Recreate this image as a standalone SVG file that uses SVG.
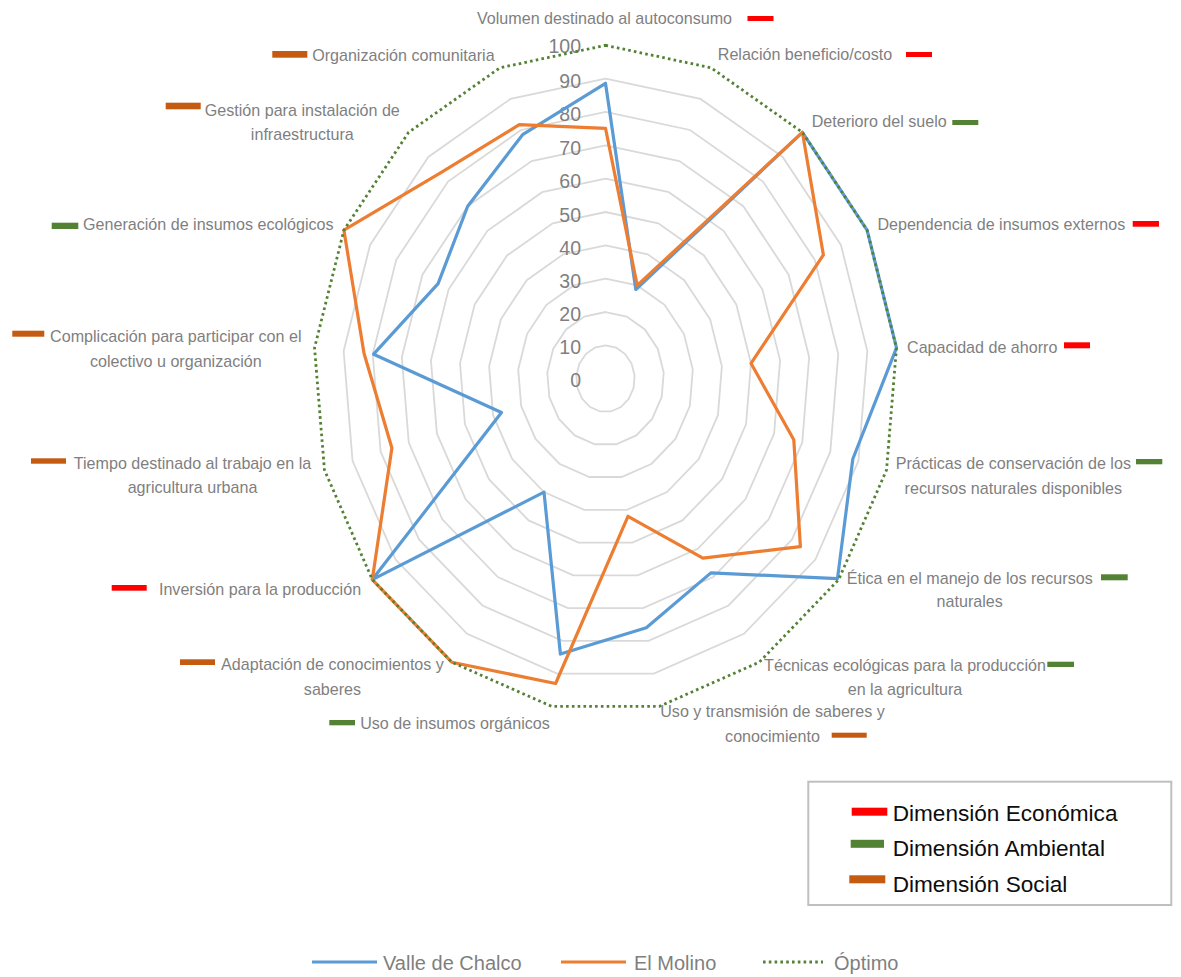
<svg xmlns="http://www.w3.org/2000/svg" xmlns:xlink="http://www.w3.org/1999/xlink" width="1181" height="977" viewBox="0 0 1181 977">
<style>
.lbl{font-family:"Liberation Sans",Arial,sans-serif;font-size:16.1px;fill:#7F7F7F;text-anchor:middle}
.tick{font-family:"Liberation Sans",Arial,sans-serif;font-size:19.5px;fill:#7F7F7F;text-anchor:end}
.leg{font-family:"Liberation Sans",Arial,sans-serif;font-size:22.6px;fill:#0D0D0D}
.leg2{font-family:"Liberation Sans",Arial,sans-serif;font-size:20px;fill:#7F7F7F}
.ring{fill:none;stroke:#D9D9D9}
.eco{fill:#FF0000}
.amb{fill:#548235}
.soc{fill:#C55A11}
.s1{fill:none;stroke:#5B9BD5;stroke-width:3.2;stroke-linejoin:round}
.s2{fill:none;stroke:#ED7D31;stroke-width:3.2;stroke-linejoin:round}
.s3{fill:none;stroke:#548235;stroke-width:2.8;stroke-dasharray:2.6 3.2}
</style>
<defs>
<polygon id="base" points="0,-333.4 105.55,-310.89 196.86,-246.39 261.57,-148.61 290.95,-30.76 281.05,91.24 233.18,200.92 153.83,283.46 53.69,327.72 -53.69,327.72 -153.83,283.46 -233.18,200.92 -281.05,91.24 -290.95,-30.76 -261.57,-148.61 -196.86,-246.39 -105.55,-310.89"/>
</defs>
<rect width="1181" height="977" fill="#FFFFFF"/>
<g id="grid" transform="translate(605.5 378.7)">
<use xlink:href="#base" class="ring" transform="scale(0.1)" stroke-width="18"/>
<use xlink:href="#base" class="ring" transform="scale(0.2)" stroke-width="9"/>
<use xlink:href="#base" class="ring" transform="scale(0.3)" stroke-width="6"/>
<use xlink:href="#base" class="ring" transform="scale(0.4)" stroke-width="4.5"/>
<use xlink:href="#base" class="ring" transform="scale(0.5)" stroke-width="3.6"/>
<use xlink:href="#base" class="ring" transform="scale(0.6)" stroke-width="3"/>
<use xlink:href="#base" class="ring" transform="scale(0.7)" stroke-width="2.571"/>
<use xlink:href="#base" class="ring" transform="scale(0.8)" stroke-width="2.25"/>
<use xlink:href="#base" class="ring" transform="scale(0.9)" stroke-width="2"/>
</g>
<g id="ticks">
<text class="tick" x="581" y="386.7">0</text>
<text class="tick" x="581" y="354">10</text>
<text class="tick" x="581" y="321">20</text>
<text class="tick" x="581" y="288">30</text>
<text class="tick" x="581" y="255">40</text>
<text class="tick" x="581" y="221.5">50</text>
<text class="tick" x="581" y="188">60</text>
<text class="tick" x="581" y="154.5">70</text>
<text class="tick" x="581" y="121">80</text>
<text class="tick" x="581" y="87.5">90</text>
<text class="tick" x="581" y="52.5">100</text>
</g>
<g id="series">
<polygon id="valle" class="s1" points="605.5,83.3 635.8,289.5 802.4,132.3 867.1,230.1 896.5,347.9 852.8,459.0 837.5,578.6 710.9,572.9 646.3,627.8 560.4,654.0 544.0,492.1 372.3,579.6 501.5,412.5 373.6,354.2 438.1,283.6 467.7,206.2 522.6,134.7"/>
<polygon id="molino" class="s2" points="605.5,128.3 637.2,285.4 802.4,132.3 823.4,254.9 751.0,363.3 793.8,439.8 800.4,546.7 702.9,558.1 628.0,516.3 555.6,683.5 451.7,662.2 372.3,579.6 391.9,448.0 364.0,353.2 343.9,230.1 440.9,172.7 519.3,124.7"/>
<polygon id="optimo" class="s3" points="605.5,45.3 711.05,67.81 802.36,132.31 867.07,230.09 896.45,347.94 886.55,469.94 838.68,579.62 759.33,662.16 659.19,706.42 551.81,706.42 451.67,662.16 372.32,579.62 324.45,469.94 314.55,347.94 343.93,230.09 408.64,132.31 499.95,67.81"/>
</g>
<g id="ax1"><text class="lbl" x="604.5" y="23.5">Volumen destinado al autoconsumo</text><rect class="eco" x="747.5" y="16" width="26" height="5"/></g>
<g id="ax2"><text class="lbl" x="805" y="60">Relación beneficio/costo</text><rect class="eco" x="906" y="52" width="26" height="5"/></g>
<g id="ax3"><text class="lbl" x="879.2" y="127.3">Deterioro del suelo</text><rect class="amb" x="952.3" y="120" width="26" height="5"/></g>
<g id="ax4"><text class="lbl" x="1001.3" y="230">Dependencia de insumos externos</text><rect class="eco" x="1132.7" y="221" width="26.3" height="5.7"/></g>
<g id="ax5"><text class="lbl" x="982.2" y="353.3">Capacidad de ahorro</text><rect class="eco" x="1064" y="342.3" width="26" height="6"/></g>
<g id="ax6"><text class="lbl" x="1013.3" y="469.3">Prácticas de conservación de los</text><text class="lbl" x="1013.3" y="494">recursos naturales disponibles</text><rect class="amb" x="1136" y="459" width="26.3" height="5.3"/></g>
<g id="ax7"><text class="lbl" x="969.7" y="584.3">Ética en el manejo de los recursos</text><text class="lbl" x="969.7" y="607.3">naturales</text><rect class="amb" x="1101" y="574.3" width="26.7" height="6"/></g>
<g id="ax8"><text class="lbl" x="905" y="670.7">Técnicas ecológicas para la producción</text><text class="lbl" x="905" y="695">en la agricultura</text><rect class="amb" x="1047.3" y="661.7" width="26.7" height="5.3"/></g>
<g id="ax9"><text class="lbl" x="772.5" y="716.7">Uso y transmisión de saberes y</text><text class="lbl" x="772.5" y="741.7">conocimiento</text><rect class="soc" x="831.7" y="732.7" width="35" height="5"/></g>
<g id="ax10"><text class="lbl" x="455" y="729.3">Uso de insumos orgánicos</text><rect class="amb" x="329.3" y="720" width="25.7" height="5.3"/></g>
<g id="ax11"><text class="lbl" x="332.5" y="670">Adaptación de conocimientos y</text><text class="lbl" x="332.5" y="695">saberes</text><rect class="soc" x="180" y="659.3" width="35" height="5.7"/></g>
<g id="ax12"><text class="lbl" x="260" y="595">Inversión para la producción</text><rect class="eco" x="111.7" y="585" width="35" height="5.7"/></g>
<g id="ax13"><text class="lbl" x="192.5" y="469.3">Tiempo destinado al trabajo en la</text><text class="lbl" x="192.5" y="493.3">agricultura urbana</text><rect class="soc" x="31" y="458.3" width="35" height="5.4"/></g>
<g id="ax14"><text class="lbl" x="175.8" y="341.7">Complicación para participar con el</text><text class="lbl" x="175.8" y="366.7">colectivo u organización</text><rect class="soc" x="12.3" y="330.7" width="32" height="6"/></g>
<g id="ax15"><text class="lbl" x="208.3" y="230">Generación de insumos ecológicos</text><rect class="amb" x="51.7" y="222.7" width="26.6" height="6.3"/></g>
<g id="ax16"><text class="lbl" x="302.3" y="116">Gestión para instalación de</text><text class="lbl" x="302.3" y="140">infraestructura</text><rect class="soc" x="165.7" y="102.7" width="35" height="6.6"/></g>
<g id="ax17"><text class="lbl" x="403.4" y="60.7">Organización comunitaria</text><rect class="soc" x="272.3" y="51" width="35" height="6.7"/></g>
<g id="dim-legend">
<rect x="808.3" y="781.7" width="363" height="123.3" fill="#FFFFFF" stroke="#BFBFBF" stroke-width="2"/>
<rect class="eco" x="851.7" y="807.7" width="35.6" height="8"/>
<text class="leg" x="892.7" y="820.7">Dimensión Económica</text>
<rect class="amb" x="850.7" y="839.8" width="33.3" height="8"/>
<text class="leg" x="892.7" y="855.7">Dimensión Ambiental</text>
<rect class="soc" x="849.3" y="875.3" width="36" height="8"/>
<text class="leg" x="892.7" y="891.7">Dimensión Social</text>
</g>
<g id="series-legend">
<line x1="312" y1="962" x2="377" y2="962" stroke="#5B9BD5" stroke-width="3.2"/>
<text class="leg2" x="383" y="969.5">Valle de Chalco</text>
<line x1="561" y1="962" x2="626" y2="962" stroke="#ED7D31" stroke-width="3.2"/>
<text class="leg2" x="634" y="969.5">El Molino</text>
<line x1="763" y1="962" x2="823" y2="962" class="s3"/>
<text class="leg2" x="834" y="969.5">Óptimo</text>
</g>
</svg>
